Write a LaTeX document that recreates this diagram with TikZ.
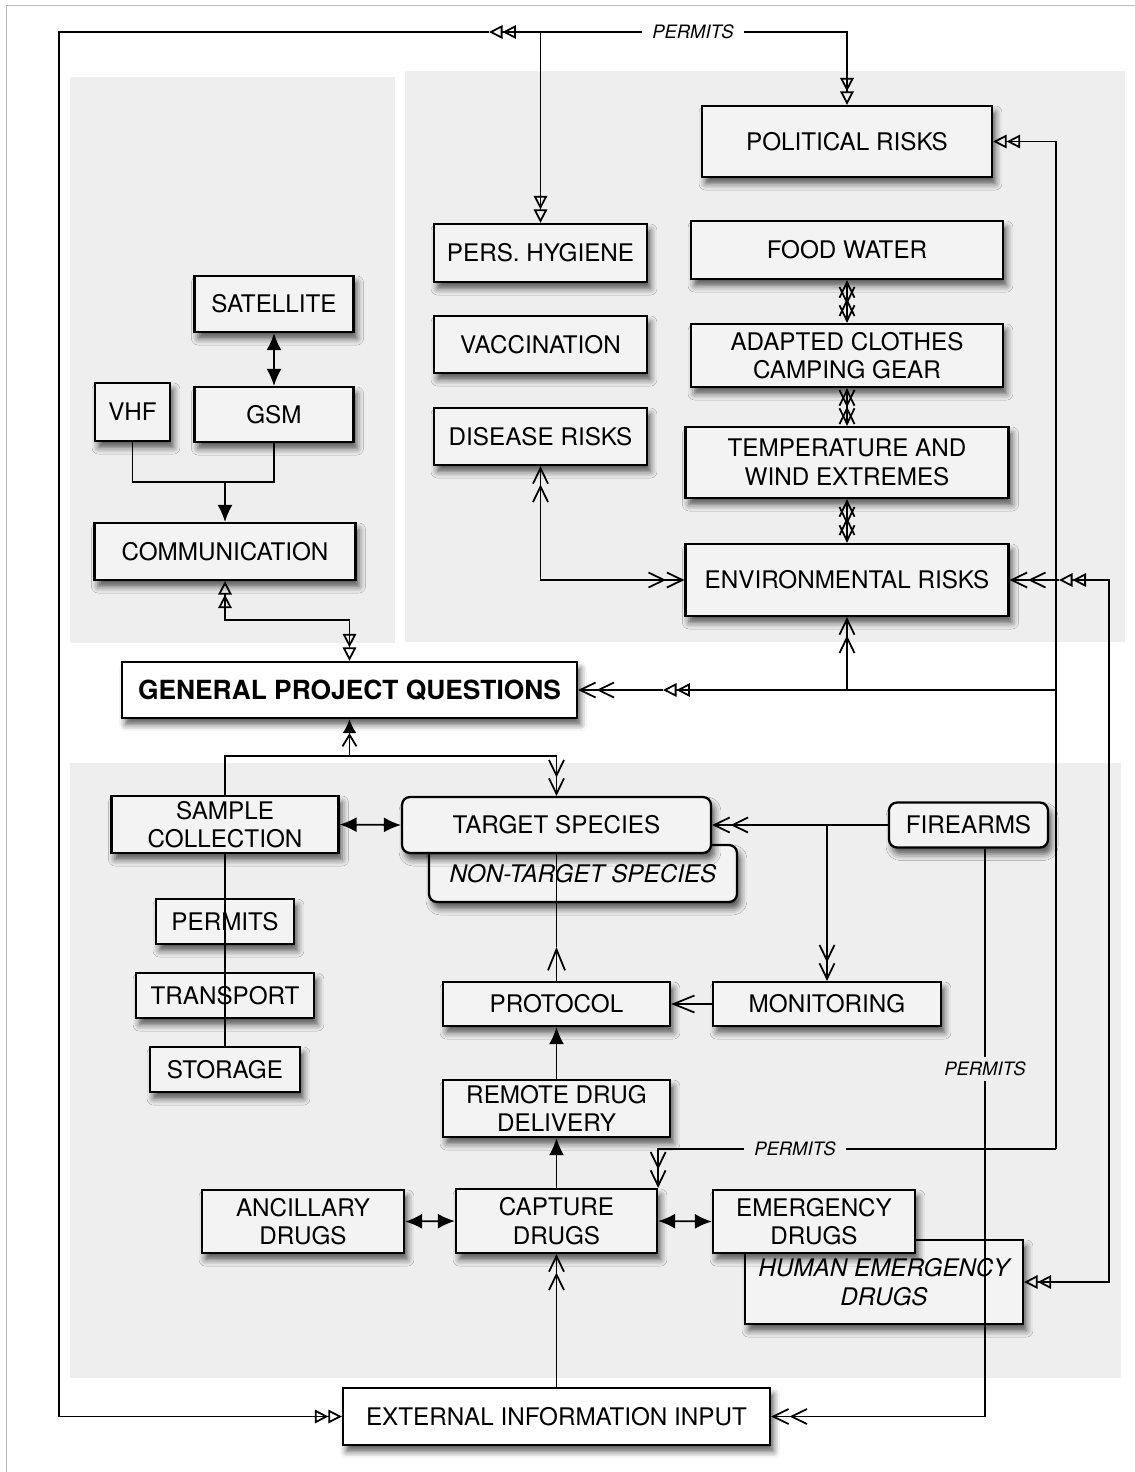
\documentclass[tikz,border=0pt]{standalone}
\usepackage{fontspec}
\setmainfont{TeX Gyre Heros}
\usetikzlibrary{arrows.meta}
\usetikzlibrary{shadows,shadows.blur}
\definecolor{panelgray}{RGB}{238,238,238}
\definecolor{boxgray}{RGB}{243,243,243}

\tikzset{
  TwoOpen/.tip={Triangle[open,length=2.7mm,width=2.7mm]Triangle[open,length=2.7mm,width=2.7mm]},
  TwoBarb/.tip={Straight Barb[length=3.1mm,width=3mm]Straight Barb[length=3.1mm,width=3mm]},
  SolidTip/.tip={Latex[length=3.4mm,width=3mm]},
  OneBarb/.tip={Straight Barb[length=4.2mm,width=3.4mm]},
  box/.style={draw, line width=1.3pt, fill=boxgray, inner sep=0pt, align=center,
    font=\fontsize{13.8}{16.2}\selectfont,
    blur shadow={shadow xshift=0.7mm, shadow yshift=-1.3mm, shadow blur radius=1.3mm, shadow opacity=65}},
  rbox/.style={box, rounded corners=1.6mm},
  wbox/.style={box, fill=white},
  lbl/.style={inner xsep=2mm, inner ysep=1mm, font=\fontsize{10.5}{12}\selectfont\itshape},
  conn/.style={line width=1pt}
}

\begin{document}
\begin{tikzpicture}[x=0.02cm, y=-0.02cm, conn]
     \useasboundingbox (0,0) rectangle (1135,1472);
     \draw[gray!55, line width=0.4pt] (6.5,1472) |- (1135,5.3);

     % shaded panels
     \fill[panelgray] (70,77) rectangle (394.5,643);
     \fill[panelgray] (405,71) rectangle (1125,642);
     \fill[panelgray] (70,763) rectangle (1121,1378);

     % communication
     \node[box, minimum width=3.18cm, minimum height=1.12cm] (sat) at (274,304) {SATELLITE};
     \node[box, minimum width=1.5cm, minimum height=1.16cm] (vhf) at (132.5,412) {VHF};
     \node[box, minimum width=3.18cm, minimum height=1.1cm] (gsm) at (274,414.5) {GSM};
     \node[box, minimum width=5.22cm, minimum height=1.14cm] (comm) at (225,551.5) {COMMUNICATION};

     % risks
     \node[box, minimum width=5.8cm, minimum height=1.42cm] (pol) at (847,141.5) {POLITICAL RISKS};
     \node[box, minimum width=4.26cm, minimum height=1.16cm] (hyg) at (540.5,253) {PERS. HYGIENE};
     \node[box, minimum width=4.26cm, minimum height=1.14cm] (vacc) at (540.5,344.5) {VACCINATION};
     \node[box, minimum width=4.26cm, minimum height=1.14cm] (dis) at (540.5,436.5) {DISEASE RISKS};
     \node[box, minimum width=6.24cm, minimum height=1.16cm] (food) at (847,250) {FOOD WATER};
     \node[box, minimum width=6.24cm, minimum height=1.26cm] (cloth) at (847,355.5) {ADAPTED CLOTHES\\CAMPING GEAR};
     \node[box, minimum width=6.46cm, minimum height=1.42cm] (temp) at (847,462.5) {TEMPERATURE AND\\WIND EXTREMES};
     \node[box, minimum width=6.46cm, minimum height=1.44cm] (env) at (847,580) {ENVIRONMENTAL RISKS};

     \node[wbox, minimum width=9.1cm, minimum height=1.12cm, font=\fontsize{15}{18}\selectfont\bfseries] (gpq) at (349.5,690) {GENERAL PROJECT QUESTIONS};

     % samples
     \node[box, minimum width=4.54cm, minimum height=1.14cm] (sample) at (225,824.5) {SAMPLE\\COLLECTION};
     \node[box, minimum width=2.76cm, minimum height=0.9cm] (permit) at (225,921.5) {PERMITS};
     \node[box, minimum width=3.56cm, minimum height=0.9cm] (transp) at (225,995.5) {TRANSPORT};
     \node[box, minimum width=3cm, minimum height=0.9cm] (store) at (225,1069.5) {STORAGE};

     % species and drugs
     \node[rbox, minimum width=6.16cm, minimum height=1.14cm, font=\fontsize{13.8}{16.2}\selectfont\itshape] (nontgt) at (583,873.5) {NON-TARGET SPECIES};
     \node[rbox, minimum width=6.18cm, minimum height=1.12cm] (tgt) at (556.5,825) {TARGET SPECIES};
     \node[rbox, minimum width=3.18cm, minimum height=0.9cm] (fire) at (968.5,825) {FIREARMS};
     \node[box, minimum width=4.54cm, minimum height=0.88cm] (prot) at (556.5,1004) {PROTOCOL};
     \node[box, minimum width=4.56cm, minimum height=0.88cm] (mon) at (827,1004) {MONITORING};
     \node[box, minimum width=4.54cm, minimum height=1.14cm] (rdd) at (556.5,1108.5) {REMOTE DRUG\\DELIVERY};
     \node[box, minimum width=4.04cm, minimum height=1.26cm] (anc) at (303,1221.5) {ANCILLARY\\DRUGS};
     \node[box, minimum width=4.02cm, minimum height=1.28cm] (cap) at (556.5,1221) {CAPTURE\\DRUGS};
     \node[box, minimum width=5.56cm, minimum height=1.68cm, font=\fontsize{13.8}{16.2}\selectfont\itshape] (hed) at (884,1282) {HUMAN EMERGENCY\\DRUGS};
     \node[box, minimum width=4.04cm, minimum height=1.26cm] (emg) at (814,1221.5) {EMERGENCY\\DRUGS};

     \node[wbox, minimum width=8.54cm, minimum height=1.14cm] (ext) at (556.5,1416.5) {EXTERNAL INFORMATION INPUT};

     % top permits loop
     \coordinate (topL) at (59,32);
     \coordinate (topH) at (hyg.north |- topL);
     \coordinate (topR) at (pol.north |- topL);
     \coordinate (mk1) at (489,32);
     \draw[-{TwoOpen}] (topH) -- (hyg.north);
     \draw[-{TwoOpen}] (topH) -- (topR) -- (pol.north);
     \draw[-{TwoOpen}] (topH) -- (mk1);
     \draw[-{TwoOpen}] (mk1) -- (topL) |- (ext.west);
     \node[lbl, fill=white] (ptop) at (693,32) {PERMITS};

     % right hand lines
     \coordinate (rvB) at (1056,1149);
     \coordinate (rvG) at (1056,690);
     \coordinate (mk2) at (663,690);
     \draw[-{TwoOpen}] (rvB) |- (pol.east);
     \draw[-{TwoBarb}] (rvB) -| (cap.north east);
     \node[lbl, fill=panelgray] (pmid) at (795,1149) {PERMITS};
     \draw[-{TwoOpen}] (rvG) -- (mk2);
     \draw[-{TwoBarb}] (mk2) -- (gpq.east);
     \draw[-{TwoBarb}] (env.south |- rvG) -- (env.south);

     \coordinate (rwE) at (1109,580);
     \coordinate (mk3) at (1059,580);
     \draw[{TwoOpen}-{TwoOpen}] (hed.east) -| (rwE) -- (mk3);
     \draw[-{TwoBarb}] (mk3) -- (env.east);

     % environment chain
     \draw[{TwoBarb}-{TwoBarb}] (food.south) -- (cloth.north);
     \draw[{TwoBarb}-{TwoBarb}] (cloth.south) -- (temp.north);
     \draw[{TwoBarb}-{TwoBarb}] (temp.south) -- (env.north);
     \draw[{TwoBarb}-{TwoBarb}] (dis.south) |- (env.west);

     % communication links
     \coordinate (cj) at (225,482);
     \draw (vhf.south) |- (cj) -| (gsm.south);
     \draw[-{SolidTip}] (cj) -- (comm.north);
     \draw[{SolidTip}-{SolidTip}] (sat.south) -- (gsm.north);
     \coordinate (cg) at (349.5,620);
     \draw[{TwoOpen}-{TwoOpen}] (comm.south) |- (cg) -- (gpq.north);

     % below general questions
     \coordinate (gs) at (349.5,756);
     \draw[-{TwoBarb}] (sample.north) |- (gs) -| (tgt.north);
     \draw[-{Straight Barb[length=2.3mm,width=2.8mm]Latex[length=2.8mm,width=2.8mm]}] (gs) -- (gpq.south);
     \draw (sample.south) -- (store.north);
     \draw[{SolidTip}-{SolidTip}] (sample.east) -- (tgt.west);

     \draw[-{TwoBarb}] (fire.west) -- (tgt.east);
     \coordinate (fj) at (mon.north |- fire.west);
     \draw[-{TwoBarb}] (fj) -- (mon.north);
     \draw[-{OneBarb}] (mon.west) -- (prot.east);
     \coordinate (pu) at (556.5,947);
     \draw[-{OneBarb}] (prot.north) -- (pu);
     \draw (pu) -- (tgt.south);
     \draw[-{SolidTip}] (rdd.north) -- (prot.south);
     \draw[-{SolidTip}] (cap.north) -- (rdd.south);
     \draw[{SolidTip}-{SolidTip}] (anc.east) -- (cap.west);
     \draw[{SolidTip}-{SolidTip}] (cap.east) -- (emg.west);
     \draw[-{TwoBarb}] (ext.north) -- (cap.south);

     \coordinate (fb) at ([xshift=3.3mm]fire.south);
     \draw[-{TwoBarb}] (fb) |- (ext.east);
     \node[lbl, fill=panelgray, inner xsep=1mm] (pvert) at (985,1069) {PERMITS};
\end{tikzpicture}
\end{document}
